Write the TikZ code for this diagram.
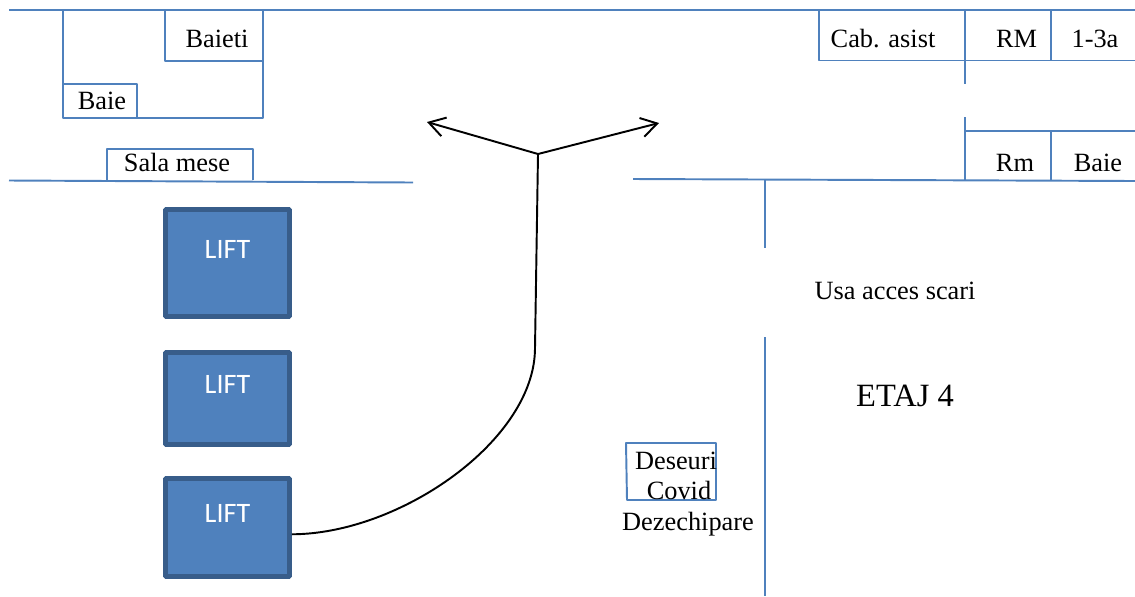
\documentclass[tikz,border=0pt]{standalone}
\usepackage{fontspec}
\setmainfont{Liberation Serif}
\newfontfamily\liftfont{Carlito}
\usetikzlibrary{arrows.meta}
\definecolor{wallblue}{HTML}{4F81BD}
\definecolor{liftedge}{HTML}{385D8A}
\tikzset{
  wall/.style={draw=wallblue, line width=1.1pt, line join=round},
  room/.style={anchor=base, inner sep=0pt, font=\fontsize{15}{15}\selectfont},
  liftbox/.style={draw=liftedge, fill=wallblue, line width=2.8pt, rounded corners=0.5pt,
    minimum width=2.48cm, text=white, inner sep=0pt, text depth=0.56cm,
    font=\liftfont\fontsize{16}{16}\selectfont},
  route/.style={draw=black, line width=1.1pt, >={Straight Barb[length=9pt,width=11pt]}}
}
\begin{document}
\begin{tikzpicture}[x=0.02cm,y=-0.02cm]
\useasboundingbox (0,0) rectangle (1135,596);
% walls, left side
\draw[wall] (9,10) -- (1135,10);
\draw[wall] (63,10) -- (63,118) -- (263,118) -- (263,10);
\draw[wall] (165,10) -- (165,61) -- (263,61);
\draw[wall] (63,84) -- (137,84) -- (137,118);
\draw[wall] (107,180) -- (107,149) -- (253,149) -- (253,180);
\draw[wall] (9,180.5) -- (413,182.5);
% walls, right side
\draw[wall] (819,10) -- (819,60.5) -- (1135,60.5);
\draw[wall] (965,10) -- (965,84);
\draw[wall] (1051,10) -- (1051,60.5);
\draw[wall] (965,117) -- (965,180);
\draw[wall] (965,131) -- (1135,131);
\draw[wall] (1051,131) -- (1051,180.5);
\draw[wall] (633,179) -- (1135,181);
\draw[wall] (765,180) -- (765,248);
\draw[wall] (765,337) -- (765,596);
\draw[wall] (626,443) -- (716,443) -- (716,500) -- (627,500) -- cycle;
% labels
\node[room] (baieti) at (217,47) {Baieti};
\node[room] (baieleft) at (102,109) {Baie};
\node[room] (sala) at (177,171) {Sala mese};
\node[room] (cabasist) at (883,47) {Cab. asist};
\node[room] (rmtop) at (1016.5,47) {RM};
\node[room] (ages) at (1095,47) {1-3a};
\node[room] (rmlow) at (1015,171) {Rm};
\node[room] (baieright) at (1098,171) {Baie};
\node[room] (usa) at (895,299) {Usa acces scari};
\node[room, font=\fontsize{18.5}{18.5}\selectfont] (etaj) at (905,406) {ETAJ 4};
\node[room] (deseuri) at (676,469) {Deseuri};
\node[room] (covid) at (679,499) {Covid};
\node[room] (dezechipare) at (688,530) {Dezechipare};
% lifts
\node[liftbox, minimum height=2.14cm] (lift1) at (227.5,263) {LIFT};
\node[liftbox, minimum height=1.84cm] (lift2) at (227.5,398.5) {LIFT};
\node[liftbox, minimum height=1.96cm] (lift3) at (227.5,527.5) {LIFT};
% route
\coordinate (hub) at (538,154);
\coordinate (goleft) at (427,122);
\coordinate (goright) at (659,123);
\draw[route] (lift3.-6) .. controls (400,534) and (535,440) .. (535,348) -- (hub);
\draw[route,->] (hub) -- (goleft);
\draw[route,->] (hub) -- (goright);
\end{tikzpicture}
\end{document}
